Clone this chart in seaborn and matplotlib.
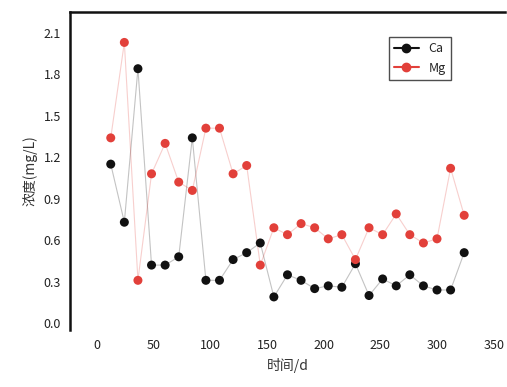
import numpy as np
import pandas as pd
import matplotlib
matplotlib.use('Agg')
import matplotlib.pyplot as plt
import seaborn as sns

sns.set_style('white')
plt.rcParams['font.family'] = ['Noto Sans CJK SC', 'DejaVu Sans']
plt.rcParams['axes.unicode_minus'] = False

# 数据
days = [12, 24, 36, 48, 60, 72, 84, 96, 108, 120, 132, 144, 156, 168,
        180, 192, 204, 216, 228, 240, 252, 264, 276, 288, 300, 312, 324]
ca = [1.15, 0.73, 1.84, 0.42, 0.42, 0.48, 1.34, 0.31, 0.31, 0.46, 0.51, 0.58, 0.19, 0.35,
      0.31, 0.25, 0.27, 0.26, 0.43, 0.20, 0.32, 0.27, 0.35, 0.27, 0.24, 0.24, 0.51]
mg = [1.34, 2.03, 0.31, 1.08, 1.30, 1.02, 0.96, 1.41, 1.41, 1.08, 1.14, 0.42, 0.69, 0.64,
      0.72, 0.69, 0.61, 0.64, 0.46, 0.69, 0.64, 0.79, 0.64, 0.58, 0.61, 1.12, 0.78]
series_names = ['Ca', 'Mg']
x_ticks = [0, 50, 100, 150, 200, 250, 300, 350]
y_ticks = [0.0, 0.3, 0.6, 0.9, 1.2, 1.5, 1.8, 2.1]

df = pd.DataFrame({
    'day': days * 2,
    'value': ca + mg,
    'series': [series_names[0]] * len(days) + [series_names[1]] * len(days),
})

fig = plt.figure(figsize=(5.07, 3.87), dpi=100)
ax = fig.add_axes([0.138, 0.147, 0.858, 0.822])

pal = {'Ca': '#111111', 'Mg': '#e2403a'}

# 先画淡色连线，再画点
sns.lineplot(data=df, x='day', y='value', hue='series', palette=pal,
             linewidth=0.8, alpha=0.25, legend=False, ax=ax)
sns.scatterplot(data=df, x='day', y='value', hue='series', palette=pal,
                s=42, linewidth=0, legend=False, ax=ax, zorder=3)

ax.set_xlim(-24, 360)
ax.set_ylim(-0.05, 2.25)
ax.set_xticks(x_ticks)
ax.set_yticks(y_ticks)
ax.set_yticklabels([f'{v:.1f}' for v in y_ticks])
ax.tick_params(labelsize=9, colors='#222222', length=3)
ax.set_xlabel('时间/d', fontsize=10, color='#333333')
ax.set_ylabel('浓度(mg/L)', fontsize=10, color='#333333')

for side in ['bottom', 'right']:
    ax.spines[side].set_visible(False)
for side in ['top', 'left']:
    ax.spines[side].set_color('#111111')
    ax.spines[side].set_linewidth(1.8)

# 图例
handles = [plt.Line2D([], [], color=pal[n], marker='o', markersize=6, linewidth=1.5)
           for n in series_names]
leg = ax.legend(handles, series_names, loc='upper right', bbox_to_anchor=(0.89, 0.94),
                fontsize=9, frameon=True, edgecolor='#222222', fancybox=False)
leg.get_frame().set_linewidth(1.0)

fig.savefig('out.png', dpi=100)
